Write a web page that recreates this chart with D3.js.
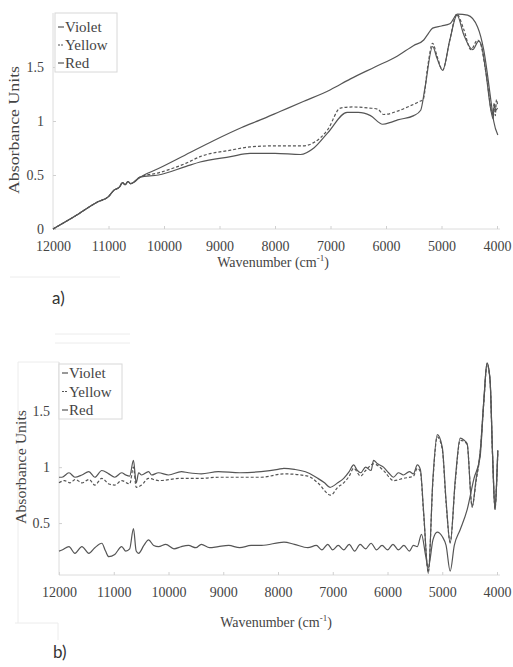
<!DOCTYPE html>
<html>
<head>
<meta charset="utf-8">
<script src="https://cdn.jsdelivr.net/npm/d3@7"></script>
<style>
  body { margin: 0; background: #fff; }
</style>
</head>
<body>
<script>
// ---- data (wavenumber, absorbance) ----
const seriesNames = ["Violet", "Yellow", "Red"];
const xTicks = [12000, 11000, 10000, 9000, 8000, 7000, 6000, 5000, 4000];
const yTicksA = [0, 0.5, 1, 1.5];
const yTicksB = [0.5, 1, 1.5];

// a) raw spectra
const startA = [[12000,0],[11600,0.12],[11200,0.25],[11000,0.3],[10900,0.36],[10800,0.39],[10750,0.43],[10700,0.41],[10650,0.44],[10600,0.42],[10430,0.48]];
const violetA = startA.concat([[10100,0.56],[9600,0.69],[9100,0.82],[8600,0.94],[8265,1.01],[7900,1.09],[7490,1.18],[7000,1.29],[6640,1.39],[6200,1.5],[5800,1.6],[5500,1.7],[5320,1.75],[5250,1.8],[5160,1.86],[5000,1.88],[4850,1.9],[4710,1.99],[4530,1.98],[4350,1.87],[4240,1.66],[4110,1.19],[4060,1.0],[3985,0.87]]);
const yellowA = startA.concat([[10100,0.52],[9600,0.61],[9350,0.67],[8800,0.73],[8450,0.76],[8000,0.77],[7500,0.77],[7300,0.8],[7050,0.92],[6820,1.12],[6600,1.13],[6300,1.12],[6150,1.11],[6040,1.06],[5800,1.09],[5610,1.13],[5400,1.18],[5330,1.2],[5250,1.5],[5160,1.72],[5080,1.6],[4980,1.47],[4850,1.75],[4725,1.99],[4600,1.85],[4470,1.66],[4350,1.75],[4300,1.72],[4200,1.45],[4075,1.06],[4050,1.17],[4030,1.05],[4010,1.2],[3990,1.15]]);
const redA = startA.concat([[10100,0.5],[9600,0.58],[9350,0.62],[8800,0.67],[8450,0.7],[8000,0.7],[7540,0.69],[7300,0.75],[7050,0.89],[6700,1.08],[6500,1.08],[6280,1.05],[6060,0.97],[5900,0.99],[5790,1.01],[5500,1.05],[5375,1.1],[5300,1.3],[5160,1.69],[5080,1.58],[4980,1.47],[4850,1.75],[4720,1.98],[4600,1.8],[4440,1.66],[4330,1.74],[4280,1.7],[4200,1.45],[4110,1.1],[4070,1.02],[4050,1.15],[4020,1.1],[3990,1.12]]);

// b) pretreated spectra
const violetB = [[12000,0.25],[11945,0.26],[11818,0.29],[11709,0.23],[11582,0.29],[11455,0.23],[11345,0.28],[11218,0.32],[11150,0.25],[11091,0.2],[10982,0.22],[10855,0.29],[10780,0.25],[10709,0.27],[10640,0.45],[10590,0.25],[10545,0.23],[10450,0.3],[10364,0.35],[10270,0.3],[10182,0.29],[10050,0.31],[9900,0.27],[9764,0.29],[9636,0.3],[9500,0.28],[9400,0.31],[9250,0.28],[9091,0.29],[8900,0.3],[8700,0.28],[8491,0.3],[8300,0.3],[7891,0.33],[7700,0.31],[7455,0.28],[7300,0.3],[7200,0.26],[7091,0.31],[7000,0.26],[6900,0.3],[6800,0.26],[6700,0.31],[6600,0.25],[6500,0.31],[6400,0.27],[6300,0.32],[6200,0.26],[6100,0.3],[6000,0.26],[5900,0.31],[5800,0.26],[5700,0.3],[5600,0.25],[5527,0.3],[5455,0.29],[5380,0.4],[5300,0.2],[5255,0.1],[5170,0.35],[5091,0.42],[5000,0.38],[4930,0.3],[4855,0.07],[4780,0.3],[4673,0.44],[4545,0.62],[4420,0.9],[4309,1.09],[4240,1.6],[4182,1.93],[4127,1.78],[4080,1.1],[4036,0.62],[4000,0.95],[3985,1.15]];
const yellowB = [[12000,0.86],[11900,0.88],[11800,0.86],[11700,0.89],[11580,0.86],[11450,0.89],[11345,0.84],[11218,0.9],[11091,0.85],[10982,0.84],[10855,0.88],[10709,0.85],[10640,1.0],[10590,0.82],[10491,0.84],[10364,0.9],[10182,0.88],[9764,0.9],[9400,0.9],[9091,0.91],[8309,0.91],[7891,0.94],[7455,0.92],[7273,0.86],[7036,0.75],[6909,0.82],[6800,0.86],[6700,0.92],[6618,0.99],[6491,0.92],[6400,0.97],[6255,1.03],[6073,0.97],[5891,0.88],[5709,0.9],[5527,0.92],[5455,0.99],[5400,0.96],[5340,0.58],[5255,0.06],[5170,0.88],[5091,1.27],[5000,1.16],[4930,0.68],[4855,0.33],[4760,0.88],[4673,1.24],[4600,1.23],[4545,1.2],[4455,0.65],[4380,0.88],[4309,1.12],[4240,1.58],[4182,1.92],[4127,1.77],[4080,1.08],[4036,0.63],[4000,0.94],[3985,1.14]];
const redB = [[12000,0.91],[11945,0.91],[11818,0.95],[11709,0.91],[11582,0.93],[11455,0.96],[11345,0.91],[11218,0.97],[11091,0.94],[10982,0.91],[10855,0.95],[10780,0.93],[10709,0.92],[10640,1.06],[10590,0.86],[10545,0.95],[10491,0.93],[10364,0.96],[10309,0.93],[10182,0.95],[10000,0.93],[9764,0.96],[9636,0.95],[9400,0.94],[9091,0.96],[8700,0.95],[8309,0.96],[8000,0.98],[7891,0.99],[7700,0.98],[7455,0.95],[7273,0.9],[7150,0.86],[7050,0.82],[6909,0.86],[6800,0.9],[6700,0.96],[6618,1.02],[6550,0.97],[6491,0.95],[6400,1.0],[6300,0.97],[6255,1.06],[6180,1.03],[6073,1.0],[5980,0.95],[5891,0.91],[5800,0.95],[5709,0.93],[5600,0.96],[5527,0.94],[5455,1.02],[5400,0.98],[5340,0.6],[5255,0.05],[5170,0.9],[5091,1.29],[5000,1.18],[4930,0.7],[4855,0.32],[4760,0.9],[4673,1.26],[4600,1.24],[4545,1.21],[4455,0.64],[4380,0.9],[4309,1.13],[4240,1.6],[4182,1.93],[4127,1.78],[4080,1.1],[4036,0.62],[4000,0.95],[3985,1.15]];

const lineColor = "#555";
const dashes = [null, "3,2", null];
const serif = "Liberation Serif";

const svg = d3.select("body").append("svg")
  .attr("width", 513).attr("height", 667)
  .attr("font-family", serif);

// faint scan leftovers around panel b
const faint = "#ececec";
[[10,277,120,277],[55,334,130,334],[55,343,130,343],[18,362,59,362],[18,362,18,623],[15,623,58,623],[58,623,58,640]]
  .forEach(l => svg.append("line").attr("x1",l[0]).attr("y1",l[1]).attr("x2",l[2]).attr("y2",l[3]).attr("stroke",faint));

function panel(cfg) {
  const x = d3.scaleLinear().domain([12000, 4000]).range(cfg.xr);
  const y = d3.scaleLinear().domain(cfg.yd).range(cfg.yr);
  const g = svg.append("g");

  const xAxis = d3.axisBottom(x).tickValues(xTicks).tickFormat(d3.format("d"))
    .tickSizeInner(-3).tickSizeOuter(0).tickPadding(12);
  const yAxis = d3.axisLeft(y).tickValues(cfg.yTicks).tickFormat(d => String(d))
    .tickSizeInner(-3).tickSizeOuter(0).tickPadding(9);

  const gx = g.append("g").attr("transform", `translate(0,${cfg.yr[0]})`).call(xAxis);
  const gy = g.append("g").attr("transform", `translate(${cfg.xr[0]},0)`).call(yAxis);
  [gx, gy].forEach(a => {
    a.attr("font-family", serif).attr("font-size", 14);
    a.select(".domain").attr("stroke", "#dcdcdc");
    a.selectAll(".tick line").attr("stroke", "#d0d0d0");
    a.selectAll("text").attr("font-family", serif).attr("fill", "#444");
  });
  gx.select(".domain").attr("d", `M${cfg.xr[0]},0H${cfg.xr[1] + 3}`);
  gy.select(".domain").attr("d", `M0,${cfg.yr[0]}V${cfg.yr[1]}`);

  const line = d3.line().x(d => x(d[0])).y(d => y(d[1])).curve(d3.curveMonotoneX);
  cfg.series.forEach((s, i) => {
    g.append("path").datum(s)
      .attr("d", line)
      .attr("fill", "none")
      .attr("stroke", lineColor)
      .attr("stroke-width", 1.2)
      .attr("stroke-dasharray", dashes[i]);
  });

  // legend
  const lg = cfg.legend;
  g.append("rect").attr("x", lg.x).attr("y", lg.y).attr("width", lg.w).attr("height", lg.h)
    .attr("fill", "#fff").attr("stroke", "#d8d8d8");
  seriesNames.forEach((n, i) => {
    const yy = lg.y + lg.first + i * lg.step;
    g.append("line").attr("x1", lg.x + 3).attr("x2", lg.x + 9).attr("y1", yy).attr("y2", yy)
      .attr("stroke", lineColor).attr("stroke-width", 1.2).attr("stroke-dasharray", i === 1 ? "2,1" : null);
    g.append("text").attr("x", lg.x + 10).attr("y", yy).attr("dy", "0.35em")
      .attr("font-family", serif).attr("font-size", 15).attr("fill", "#444").text(n);
  });

  // axis titles
  g.append("text").attr("transform", "rotate(-90)")
    .attr("x", -cfg.ylab.y).attr("y", cfg.ylab.x).attr("dy", "0.35em")
    .attr("text-anchor", "middle").attr("font-size", 14).attr("fill", "#444")
    .attr("font-family", serif)
    .attr("textLength", cfg.ylab.len).attr("lengthAdjust", "spacingAndGlyphs")
    .text("Absorbance Units");
  const xl = g.append("text").attr("x", cfg.xlab.x).attr("y", cfg.xlab.y)
    .attr("text-anchor", "middle").attr("font-size", 14).attr("fill", "#444")
    .attr("font-family", serif);
  xl.append("tspan").text("Wavenumber (cm");
  xl.append("tspan").attr("dy", -6).attr("font-size", 9).text("-1");
  xl.append("tspan").attr("dy", 6).text(")");

  svg.append("text").attr("x", cfg.tag.x).attr("y", cfg.tag.y)
    .attr("font-family", "Lato").attr("fill", "#333")
    .attr("font-size", 17).text(cfg.tag.t);
}

panel({
  xr: [53, 497], yd: [0, 2], yr: [229, 13], yTicks: yTicksA,
  series: [violetA, yellowA, redA],
  legend: { x: 55, y: 13, w: 62, h: 59, first: 14, step: 18 },
  ylab: { x: 14, y: 130, len: 128 },
  xlab: { x: 273, y: 267 },
  tag: { x: 52, y: 304, t: "a)" }
});

panel({
  xr: [59, 497], yd: [0.036, 1.94], yr: [575, 362], yTicks: yTicksB,
  series: [violetB, yellowB, redB],
  legend: { x: 59, y: 364, w: 63, h: 55, first: 9, step: 18.5 },
  ylab: { x: 21, y: 467, len: 114 },
  xlab: { x: 276, y: 627 },
  tag: { x: 53, y: 658, t: "b)" }
});
</script>
</body>
</html>
